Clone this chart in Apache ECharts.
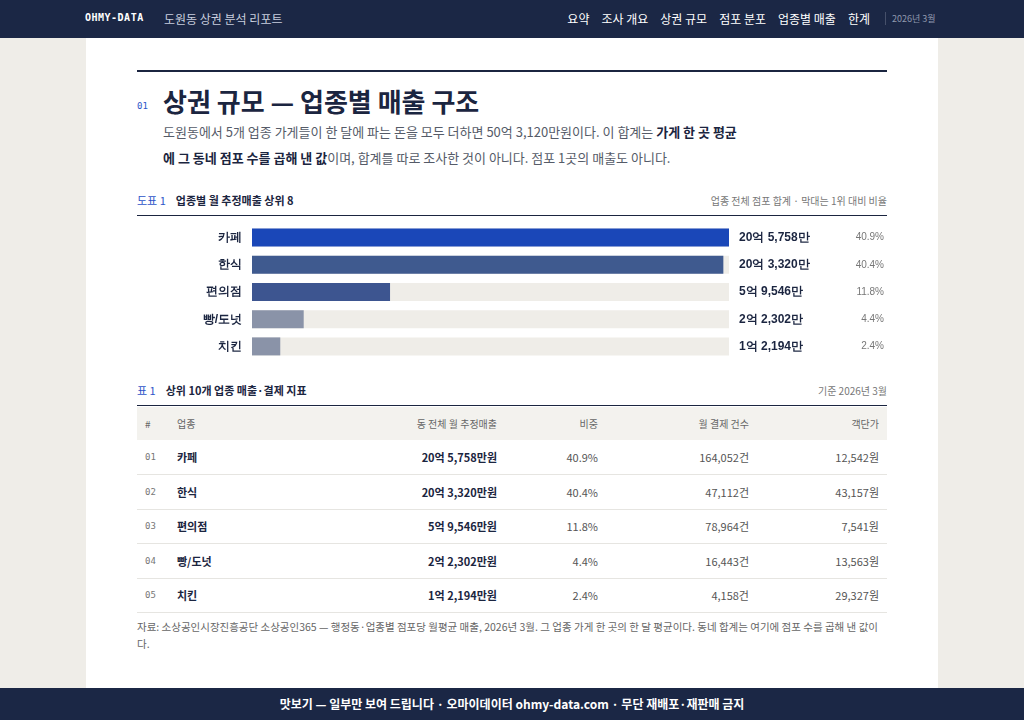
<!DOCTYPE html>
<html><head><meta charset="utf-8">
<script src="https://cdn.jsdelivr.net/npm/echarts@6/dist/echarts.min.js"></script>
<style>
*{box-sizing:border-box;margin:0;padding:0}
body{width:1024px;height:720px;overflow:hidden;background:#efede8;font-family:"Noto Sans CJK KR","Noto Sans",sans-serif;color:#1b2540;position:relative}
.top{position:absolute;left:0;top:0;width:1024px;height:38px;background:#1b2745;color:#fff;font-size:12px}
.top .brand{position:absolute;left:85px;top:12px;font-family:"DejaVu Sans Mono",monospace;font-weight:bold;font-size:10px;letter-spacing:0.5px}
.top .sub{position:absolute;left:164px;top:10px;color:#c8cede;font-size:12px}
.top .nav{position:absolute;right:154px;top:10px}
.top .nav span{margin-left:12px}
.top .date{position:absolute;left:885px;top:12px;font-size:9px;color:#8f98ad;border-left:1px solid #46506a;padding-left:6px}
.card{position:absolute;left:86px;top:38px;width:852px;height:650px;background:#fff}
.rule{position:absolute;left:137px;top:70px;width:750px;height:2px;background:#1b2540}
h1{position:absolute;left:163px;top:82px;font-size:26px;font-weight:bold}
.num{position:absolute;left:137px;top:101px;font-size:9px;color:#2d55c8;font-family:"DejaVu Sans Mono",monospace}
.lead{position:absolute;left:163px;top:119px;width:632px;font-size:13px;line-height:26px;color:#555b68}
.lead b{color:#1b2540}
.cap{position:absolute;left:137px;width:750px;font-size:11px;font-weight:bold;border-bottom:1px solid #1b2540;height:24px}
.cap .k{color:#2d55c8;margin-right:10px;font-weight:normal}
.cap .r{position:absolute;right:0;top:1px;font-weight:normal;color:#777;font-size:10px}
#chart{position:absolute;left:137px;top:222px;width:750px;height:140px}
table{position:absolute;left:137px;top:407px;width:750px;border-collapse:collapse;font-size:11px;table-layout:fixed}
th{background:#f3f2ee;color:#666;font-weight:normal;height:33px;font-size:10px}
td{height:34.5px;border-bottom:1px solid #e6e5e1;color:#555}
td.b{font-weight:bold;color:#1b2540}
td.n{font-family:"DejaVu Sans Mono",monospace;font-size:9px;color:#777}
.note{position:absolute;left:137px;top:618px;width:750px;font-size:10.5px;line-height:17px;color:#666}
.foot{position:absolute;left:0;top:688px;width:1024px;height:32px;background:#1b2745;color:#fff;font-size:12px;font-weight:bold;text-align:center;line-height:32px}
</style></head><body>
<div class="top"><span class="brand">OHMY-DATA</span><span class="sub">도원동 상권 분석 리포트</span>
<div class="nav"><span>요약</span><span>조사 개요</span><span>상권 규모</span><span>점포 분포</span><span>업종별 매출</span><span>한계</span></div>
<span class="date">2026년 3월</span></div>
<div class="card"></div>
<div class="rule"></div>
<div class="num">01</div>
<h1>상권 규모 — 업종별 매출 구조</h1>
<div class="lead">도원동에서 5개 업종 가게들이 한 달에 파는 돈을 모두 더하면 50억 3,120만원이다. 이 합계는 <b>가게 한 곳 평균<br>에 그 동네 점포 수를 곱해 낸 값</b>이며, 합계를 따로 조사한 것이 아니다. 점포 1곳의 매출도 아니다.</div>
<div class="cap" style="top:192px"><span class="k">도표 1</span>업종별 월 추정매출 상위 8<span class="r">업종 전체 점포 합계 · 막대는 1위 대비 비율</span></div>
<div id="chart"></div>
<div class="cap" style="top:382px"><span class="k">표 1</span>상위 10개 업종 매출·결제 지표<span class="r">기준 2026년 3월</span></div>
<table id="tbl"></table>
<div class="note">자료: 소상공인시장진흥공단 소상공인365 — 행정동·업종별 점포당 월평균 매출, 2026년 3월. 그 업종 가게 한 곳의 한 달 평균이다. 동네 합계는 여기에 점포 수를 곱해 낸 값이다.</div>
<div class="foot">맛보기 — 일부만 보여 드립니다 · 오마이데이터 ohmy-data.com · 무단 재배포·재판매 금지</div>
<script>
var categories = ['카페', '한식', '편의점', '빵/도넛', '치킨'];
var sales = [205758, 203320, 59546, 22302, 12194]; // 만원
var shares = ['40.9%', '40.4%', '11.8%', '4.4%', '2.4%'];
var counts = ['164,052건', '47,112건', '78,964건', '16,443건', '4,158건'];
var perPay = ['12,542원', '43,157원', '7,541원', '13,563원', '29,327원'];
var colors = ['#1a47b8', '#3f5a8f', '#3d5590', '#8a93a8', '#8a93a8'];

function fmt(v) {
  var eok = Math.floor(v / 10000), man = v % 10000;
  return eok + '억 ' + man.toLocaleString('en-US') + '만';
}

var myChart = echarts.init(document.getElementById('chart'));
myChart.setOption({
  animation: false,
  grid: {left: 115, right: 155, top: 2, bottom: 2},
  xAxis: {type: 'value', max: sales[0], show: false},
  yAxis: [
    {type: 'category', inverse: true, data: categories, axisLine: {show: false}, axisTick: {show: false},
      axisLabel: {color: '#1b2540', fontSize: 12, fontWeight: 'bold', margin: 10}},
    {type: 'category', inverse: true, position: 'right', data: sales.map(fmt), axisLine: {show: false}, axisTick: {show: false},
      axisLabel: {color: '#1b2540', fontSize: 12, fontWeight: 'bold', margin: 10, align: 'left'}},
    {type: 'category', inverse: true, position: 'right', offset: 155, data: shares, axisLine: {show: false}, axisTick: {show: false},
      axisLabel: {color: '#777', fontSize: 10, margin: 0, align: 'right'}}
  ],
  series: [{
    type: 'bar', barWidth: 18, showBackground: true, backgroundStyle: {color: '#efede8'},
    data: sales.map(function (v, i) { return {value: v, itemStyle: {color: colors[i]}}; })
  }]
});

var w = [40, 120, 200, 101, 151, 138];
var h = '<colgroup>' + w.map(function (x) { return '<col style="width:' + x + 'px">'; }).join('') + '</colgroup>';
h += '<tr><th style="text-align:left;padding-left:8px">#</th><th style="text-align:left">업종</th><th style="text-align:right">동 전체 월 추정매출</th><th style="text-align:right">비중</th><th style="text-align:right">월 결제 건수</th><th style="text-align:right;padding-right:8px">객단가</th></tr>';
categories.forEach(function (c, i) {
  h += '<tr><td class="n" style="padding-left:8px">0' + (i + 1) + '</td><td class="b">' + c + '</td><td class="b" style="text-align:right">' + fmt(sales[i]) + '원</td><td style="text-align:right">' + shares[i] + '</td><td style="text-align:right">' + counts[i] + '</td><td style="text-align:right;padding-right:8px">' + perPay[i] + '</td></tr>';
});
document.getElementById('tbl').innerHTML = h;
</script>
</body></html>
